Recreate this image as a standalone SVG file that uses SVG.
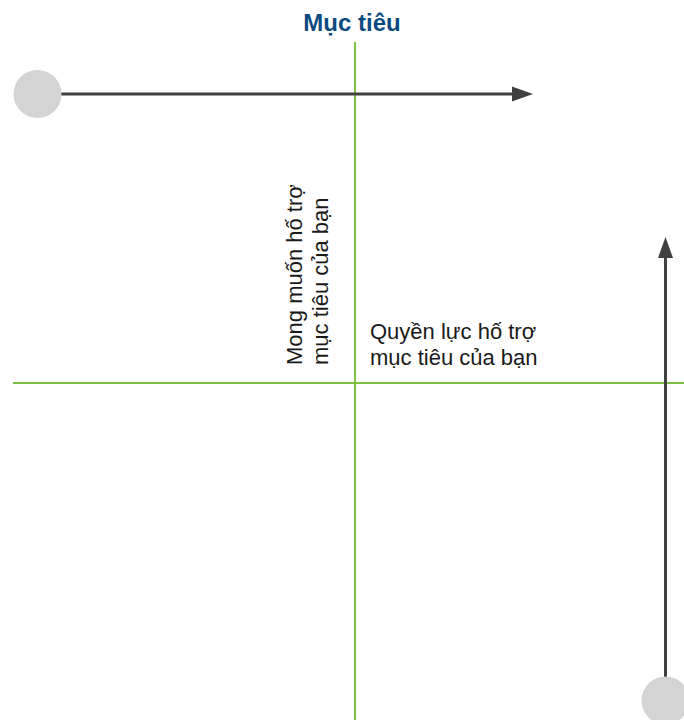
<svg xmlns="http://www.w3.org/2000/svg" width="684" height="720" viewBox="0 0 684 720">
  <style>
    .axis { stroke: #7ac143; stroke-width: 2; fill: none; }
    .arrow { stroke: #404040; stroke-width: 3; fill: none; }
    .head { fill: #404040; }
    .dot { fill: #d4d4d4; }
    .lbl { font-family: "Liberation Sans", Arial, sans-serif; font-size: 22px; fill: #1a1a1a; }
    .title { font-family: "Liberation Sans", Arial, sans-serif; font-size: 24px; font-weight: bold; fill: #0b4a80; }
  </style>
  <rect width="684" height="720" fill="#ffffff"/>
  <g id="axes">
    <line class="axis" x1="355" y1="42" x2="355" y2="720"/>
    <line class="axis" x1="13" y1="383" x2="684" y2="383"/>
  </g>
  <g id="connectors">
    <line class="arrow" x1="58" y1="94" x2="513" y2="94"/>
    <polygon class="head" points="512,86.5 533,94 512,101.5"/>
    <line class="arrow" x1="665.5" y1="678" x2="665.5" y2="257"/>
    <polygon class="head" points="658,258 665.5,237 673,258"/>
  </g>
  <g id="start-top">
    <circle class="dot" cx="37.5" cy="94" r="24"/>
  </g>
  <g id="start-bottom">
    <circle class="dot" cx="665.5" cy="700.5" r="24"/>
  </g>
  <g id="title">
    <text class="title" x="352" y="31" text-anchor="middle">Mục tiêu</text>
  </g>
  <g id="label-vertical">
    <text class="lbl" transform="translate(302,365) rotate(-90)">
      <tspan x="0" y="0">Mong muốn hố trợ</tspan>
      <tspan x="0" y="26.4">mục tiêu của bạn</tspan>
    </text>
  </g>
  <g id="label-horizontal">
    <text class="lbl" x="370" y="338.5">
      <tspan x="370" y="338.5">Quyền lực hố trợ</tspan>
      <tspan x="370" y="364.9">mục tiêu của bạn</tspan>
    </text>
  </g>
</svg>
